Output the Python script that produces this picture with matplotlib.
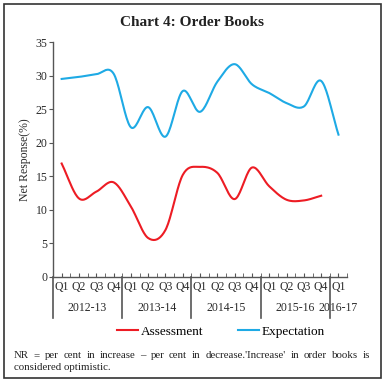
#!/usr/bin/env python3
# Chart 4: Order Books - net response for assessment vs expectation, by quarter

import numpy as np
import matplotlib
matplotlib.use("Agg")
import matplotlib.pyplot as plt
from matplotlib.patches import Rectangle
from matplotlib.transforms import blended_transform_factory

quarters = ["Q1", "Q2", "Q3", "Q4"] * 4 + ["Q1"]
years = ["2012-13", "2013-14", "2014-15", "2015-16", "2016-17"]
year_sizes = [4, 4, 4, 4, 1]

assessment = [16.9, 11.7, 12.7, 14.1, 10.5, 5.8, 7.0, 15.2, 16.4, 15.5,
              11.6, 16.3, 13.5, 11.5, 11.4, 12.1]
expectation = [29.5, 29.8, 30.2, 30.3, 22.3, 25.3, 20.9, 27.7, 24.6, 29.1,
               31.7, 28.7, 27.4, 25.9, 25.4, 29.2, 21.2]

note_lines = ["NR = per cent in increase \u2013 per cent in decrease.'Increase' in order books is",
              "considered optimistic."]

RED = "#ed1c24"
BLUE = "#1eaae5"
AXC = "#555555"
TXT = "#2a2a2a"
FONT = "Liberation Serif"


def smooth(y, n=20):
    # catmull-rom through the points, like excel's "smoothed line"
    y = np.asarray(y, dtype=float)
    x = np.arange(len(y), dtype=float)
    px = np.concatenate([[2 * x[0] - x[1]], x, [2 * x[-1] - x[-2]]])
    py = np.concatenate([[2 * y[0] - y[1]], y, [2 * y[-1] - y[-2]]])
    xs, ys = [], []
    t = np.linspace(0, 1, n, endpoint=False)
    for i in range(1, len(px) - 2):
        for arr, out in ((px, xs), (py, ys)):
            p0, p1, p2, p3 = arr[i - 1], arr[i], arr[i + 1], arr[i + 2]
            out.extend(0.5 * ((2 * p1) + (-p0 + p2) * t
                              + (2 * p0 - 5 * p1 + 4 * p2 - p3) * t ** 2
                              + (-p0 + 3 * p1 - 3 * p2 + p3) * t ** 3))
    xs.append(x[-1])
    ys.append(y[-1])
    return np.array(xs), np.array(ys)


def justified(fig, line, x0, x1, y, **kw):
    # spread the words of one line so it fills x0..x1 (figure fraction)
    words = line.split(" ")
    r = fig.canvas.get_renderer()
    W = fig.bbox.width
    texts = [fig.text(0, y, w, ha="left", va="center", **kw) for w in words]
    widths = [t.get_window_extent(r).width / W for t in texts]
    gap = (x1 - x0 - sum(widths)) / (len(words) - 1)
    x = x0
    for t, w in zip(texts, widths):
        t.set_x(x)
        x += w + gap


plt.rcParams["font.family"] = [FONT, "DejaVu Serif"]

fig = plt.figure(figsize=(3.84, 3.82), dpi=100)
ax = fig.add_axes([0.138, 0.275, 0.766, 0.615])

xa, ya = smooth(assessment)
xe, ye = smooth(expectation)
ax.plot(xa, ya, color=RED, lw=1.5, label="Assessment")
ax.plot(xe, ye, color=BLUE, lw=1.5, label="Expectation")

n = len(quarters)
ax.set_xlim(-0.5, n - 0.5)
ax.set_ylim(0, 35)
ax.set_yticks(np.arange(0, 36, 5))
ax.set_xticks(np.arange(n))
ax.set_xticklabels(quarters)
ax.set_xticks(np.arange(-0.5, n, 1.0), minor=True)

for s in ["top", "right"]:
    ax.spines[s].set_visible(False)
for s in ["left", "bottom"]:
    ax.spines[s].set_color(AXC)
    ax.spines[s].set_linewidth(1.0)

ax.tick_params(axis="y", direction="out", length=3, color=AXC, labelsize=8.5,
               labelcolor=TXT, pad=1)
ax.tick_params(axis="x", which="both", direction="in", length=3, color=AXC,
               labelsize=8.5, labelcolor=TXT, pad=3)
ax.set_ylabel("Net Response(%)", fontsize=8.5, color=TXT, labelpad=3)

# year group separators and labels under the quarter labels
trans = blended_transform_factory(ax.transData, ax.transAxes)
pos = -0.5
bounds = [pos]
for size in year_sizes:
    pos += size
    bounds.append(pos)
for b in bounds[:-1]:
    ax.plot([b, b], [0, -0.175], color=AXC, lw=1.2, transform=trans,
            clip_on=False)
for yr, lo, hi in zip(years, bounds[:-1], bounds[1:]):
    ax.text((lo + hi) / 2, -0.132, yr, transform=trans, ha="center",
            va="center", fontsize=8.5, color=TXT)

fig.text(0.5, 0.942, "Chart 4: Order Books", ha="center", va="center",
         fontsize=11, fontweight="bold", color="#222222")

fig.legend(loc="center", bbox_to_anchor=(0.575, 0.131), ncol=2,
           frameon=False, fontsize=9.5, handlelength=1.6, handletextpad=0.2,
           columnspacing=2.6)

justified(fig, note_lines[0], 14 / 384, 370 / 384, 1 - 356 / 382,
          fontsize=7.8, color="#222222")
fig.text(14 / 384, 1 - 368 / 382, note_lines[1], ha="left", va="center",
         fontsize=7.8, color="#222222")

fig.patches.append(Rectangle((4 / 384, 4 / 382), 377 / 384, 374 / 382,
                             transform=fig.transFigure, fill=False,
                             edgecolor="#333333", lw=1.2))

fig.savefig("out.png", dpi=100)
